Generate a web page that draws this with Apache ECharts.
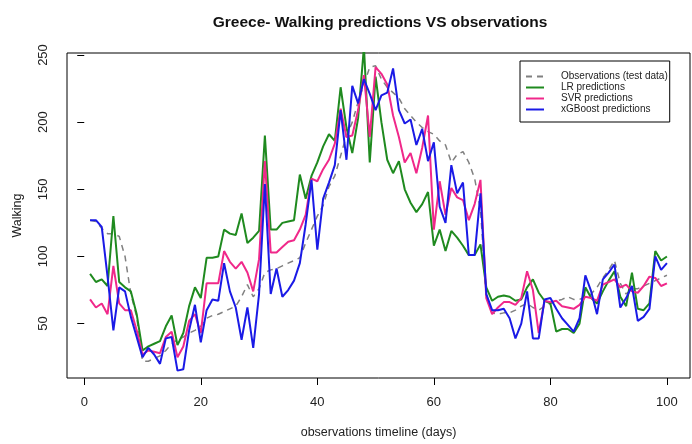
<!DOCTYPE html>
<html>
<head>
<meta charset="utf-8">
<script src="https://cdn.jsdelivr.net/npm/echarts@6/dist/echarts.min.js"></script>
<style>
html,body{margin:0;padding:0;background:#fff;}
#chart{width:692px;height:444px;}
</style>
</head>
<body>
<div id="chart"></div>
<script>
var days = [1,2,3,4,5,6,7,8,9,10,11,12,13,14,15,16,17,18,19,20,21,22,23,24,25,26,27,28,29,30,31,32,33,34,35,36,37,38,39,40,41,42,43,44,45,46,47,48,49,50,51,52,53,54,55,56,57,58,59,60,61,62,63,64,65,66,67,68,69,70,71,72,73,74,75,76,77,78,79,80,81,82,83,84,85,86,87,88,89,90,91,92,93,94,95,96,97,98,99,100];

var observations = [127,126,121,117,117,115,100,72,55,22,22,24,26,30,35,38,40,43,45,48,54,56,57,59,61,63,70,79,70,76,88,90,91,93,95,97,99,110,120,130,138,152,160,175,190,200,215,228,241,242,232,226,222,218,210,205,200,196,193,191,186,183,170,176,178,170,158,135,70,58,57,58,58,60,63,65,62,60,63,65,67,68,70,68,68,70,72,77,84,90,97,80,72,76,76,78,80,82,84,86];

var lrPred = [87,81,83,78,130,81,77,74,57,30,33,35,37,48,56,34,43,63,77,69,99,99,100,120,117,116,132,110,114,119,190,120,120,125,126,127,161,143,160,170,182,191,186,226,196,177,203,256,170,234,200,172,162,171,150,140,133,139,148,108,120,104,119,114,108,101,101,109,77,67,70,71,70,67,68,77,83,73,67,65,44,46,46,43,50,77,69,65,74,82,89,70,63,88,61,60,65,104,97,100];

var svrPred = [68,62,65,57,93,65,60,60,45,27,30,29,28,40,44,25,33,52,57,43,80,80,80,104,96,91,96,88,74,98,171,103,103,107,111,112,120,131,158,156,165,172,184,210,189,190,209,235,189,241,236,228,205,189,170,177,162,181,205,120,156,131,151,144,142,127,139,157,69,57,62,66,66,64,69,89,75,43,67,66,67,63,62,61,64,70,69,67,79,81,83,77,79,74,73,78,85,84,78,80];

var xgbPred = [127,127,122,85,45,77,74,55,40,25,32,27,20,39,40,15,16,45,64,36,60,68,67,95,74,62,38,62,32,72,154,72,91,70,75,82,95,124,157,105,143,155,168,209,172,227,214,232,221,209,220,222,240,209,199,202,183,195,171,185,137,125,168,147,155,101,101,147,72,60,60,61,54,39,50,74,39,39,68,69,61,54,49,44,54,86,74,57,83,88,94,62,69,78,52,55,61,100,90,95];

var xTicks = [0,20,40,60,80,100];
var yTicks = [50,100,150,200,250];

var seriesNames = ['Observations (test data)','LR predictions','SVR predictions','xGBoost predictions'];

function pairs(vals){ return days.map(function(d,i){ return [d, vals[i]]; }); }

var FONT = '"Liberation Sans", Arial, Helvetica, sans-serif';
var chart = echarts.init(document.getElementById('chart'), null, {renderer:'canvas'});
chart.setOption({
  animation:false,
  backgroundColor:'#fff',
  textStyle:{fontFamily:FONT},
  title:{
    text:'Greece- Walking predictions VS observations',
    left:375, top:10, textAlign:'center',
    textStyle:{fontFamily:FONT, fontSize:15.5, fontWeight:'bold', color:'#111'}
  },
  legend:{
    orient:'vertical',
    left:520, top:61,
    padding:[10,2,7,5],
    itemWidth:18, itemHeight:11, itemGap:0,
    icon:'inherit',
    itemStyle:{opacity:0, borderWidth:0},
    backgroundColor:'#fff',
    borderColor:'#000', borderWidth:1, borderRadius:0,
    textStyle:{fontFamily:FONT, fontSize:10, color:'#222', lineHeight:11, padding:[0,0,0,12]},
    data:seriesNames
  },
  grid:{
    left:67, right:2, top:53, bottom:61,
    show:true, borderColor:'#000', borderWidth:1, backgroundColor:'transparent'
  },
  xAxis:{
    type:'value', min:-2.96, max:103.96,
    name:'observations timeline (days)', nameLocation:'middle', nameGap:48,
    nameTextStyle:{fontFamily:FONT, fontSize:12.5, color:'#222'},
    axisLine:{show:false},
    axisTick:{show:true, length:7, lineStyle:{color:'#000'}, customValues:xTicks},
    axisLabel:{fontFamily:FONT, fontSize:13, color:'#222', margin:18, customValues:xTicks},
    splitLine:{show:false}
  },
  yAxis:{
    type:'value', min:9.5, max:251.5,
    name:'Walking', nameLocation:'middle', nameGap:43, nameRotate:90,
    nameTextStyle:{fontFamily:FONT, fontSize:12.5, color:'#222'},
    axisLine:{show:false},
    axisTick:{show:true, length:7, lineStyle:{color:'#000'}, customValues:yTicks},
    axisLabel:{fontFamily:FONT, fontSize:13, color:'#222', margin:17, rotate:90, customValues:yTicks},
    splitLine:{show:false}
  },
  series:[
    {name:seriesNames[0], type:'line', symbol:'none', data:pairs(observations), clip:true,
     lineStyle:{color:'#808080', width:1.5, type:[6,5]}, itemStyle:{color:'#808080'}, z:1},
    {name:seriesNames[1], type:'line', symbol:'none', data:pairs(lrPred), clip:true,
     lineStyle:{color:'#1f8a1f', width:2}, itemStyle:{color:'#1f8a1f'}, z:2},
    {name:seriesNames[2], type:'line', symbol:'none', data:pairs(svrPred), clip:true,
     lineStyle:{color:'#f0288a', width:2}, itemStyle:{color:'#f0288a'}, z:3},
    {name:seriesNames[3], type:'line', symbol:'none', data:pairs(xgbPred), clip:true,
     lineStyle:{color:'#1a1ae6', width:2}, itemStyle:{color:'#1a1ae6'}, z:4}
  ]
});
</script>
</body>
</html>
